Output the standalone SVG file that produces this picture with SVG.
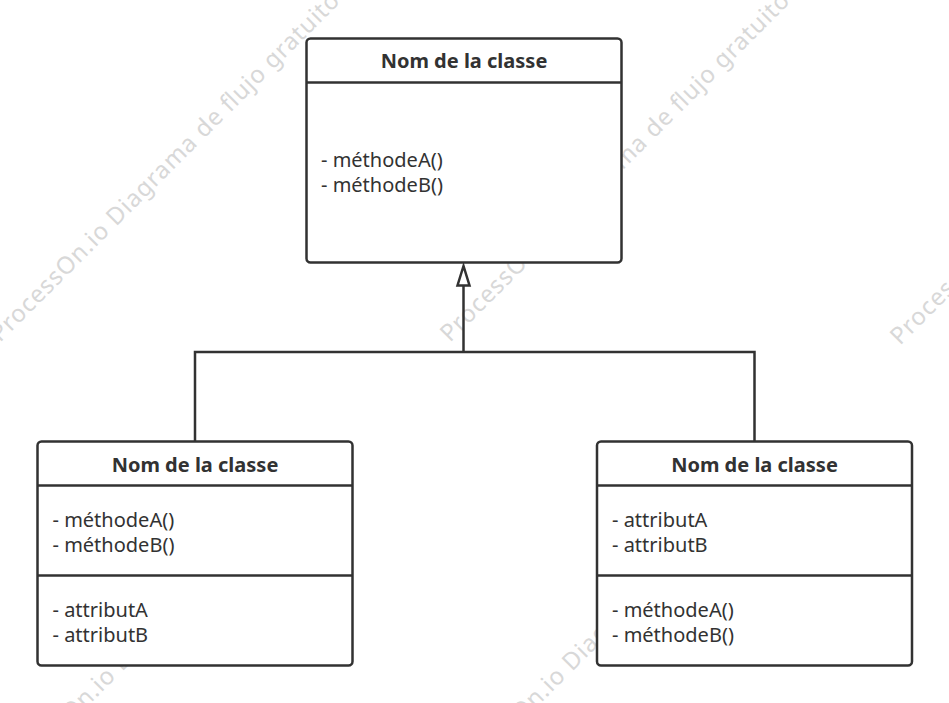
<svg xmlns="http://www.w3.org/2000/svg" width="949" height="703" viewBox="0 0 949 703">
<style>
.wm{font-family:"Noto Sans","Liberation Sans",sans-serif;font-size:24px;fill:#d8d8d8}
.box{fill:#fff;stroke:#323232;stroke-width:2.5}
.div{stroke:#323232;stroke-width:2.5}
.title{font-family:"Noto Sans","Liberation Sans",sans-serif;font-size:20px;font-weight:bold;fill:#323232;text-anchor:middle}
.txt{font-family:"Noto Sans","Liberation Sans",sans-serif;font-size:20px;fill:#323232}
.conn{fill:none;stroke:#323232;stroke-width:2.5}
.arrow{fill:#fff;stroke:#323232;stroke-width:2.5;stroke-linejoin:miter}
</style>
<rect x="0" y="0" width="949" height="703" fill="#fff"/>
<g id="watermark">
<text class="wm" x="0" y="343" transform="rotate(-45 0 343)" textLength="482" lengthAdjust="spacing">ProcessOn.io Diagrama de flujo gratuito</text>
<text class="wm" x="450" y="343" transform="rotate(-45 450 343)" textLength="482" lengthAdjust="spacing">ProcessOn.io Diagrama de flujo gratuito</text>
<text class="wm" x="900" y="346" transform="rotate(-45 900 346)" textLength="482" lengthAdjust="spacing">ProcessOn.io Diagrama de flujo gratuito</text>
<text class="wm" x="6" y="788" transform="rotate(-45 6 788)" textLength="482" lengthAdjust="spacing">ProcessOn.io Diagrama de flujo gratuito</text>
<text class="wm" x="456" y="788" transform="rotate(-45 456 788)" textLength="482" lengthAdjust="spacing">ProcessOn.io Diagrama de flujo gratuito</text>
</g>
<g id="connectors">
<path class="conn" d="M195,441.5 V352 H754.5 V441.5"/>
<path class="conn" d="M463.5,352 V285"/>
<path class="arrow" d="M463.5,266 L457.5,285.5 L469.5,285.5 Z"/>
</g>
<g id="parent">
<rect class="box" x="306.5" y="38.5" width="315" height="224" rx="4"/>
<line class="div" x1="306.5" y1="82.5" x2="621.5" y2="82.5"/>
<text class="title" x="464" y="67.5">Nom de la classe</text>
<text class="txt" x="321" y="167">- méthodeA()</text>
<text class="txt" x="321" y="192">- méthodeB()</text>
</g>
<g id="child-left">
<rect class="box" x="37.5" y="441.5" width="315" height="224" rx="4"/>
<line class="div" x1="37.5" y1="485.5" x2="352.5" y2="485.5"/>
<line class="div" x1="37.5" y1="575.5" x2="352.5" y2="575.5"/>
<text class="title" x="195" y="471.5">Nom de la classe</text>
<text class="txt" x="52.5" y="526.5">- méthodeA()</text>
<text class="txt" x="52.5" y="551.5">- méthodeB()</text>
<text class="txt" x="52.5" y="616.5">- attributA</text>
<text class="txt" x="52.5" y="641.5">- attributB</text>
</g>
<g id="child-right">
<rect class="box" x="597" y="441.5" width="315" height="224" rx="4"/>
<line class="div" x1="597" y1="485.5" x2="912" y2="485.5"/>
<line class="div" x1="597" y1="575.5" x2="912" y2="575.5"/>
<text class="title" x="754.5" y="471.5">Nom de la classe</text>
<text class="txt" x="612" y="526.5">- attributA</text>
<text class="txt" x="612" y="551.5">- attributB</text>
<text class="txt" x="612" y="616.5">- méthodeA()</text>
<text class="txt" x="612" y="641.5">- méthodeB()</text>
</g>
</svg>
